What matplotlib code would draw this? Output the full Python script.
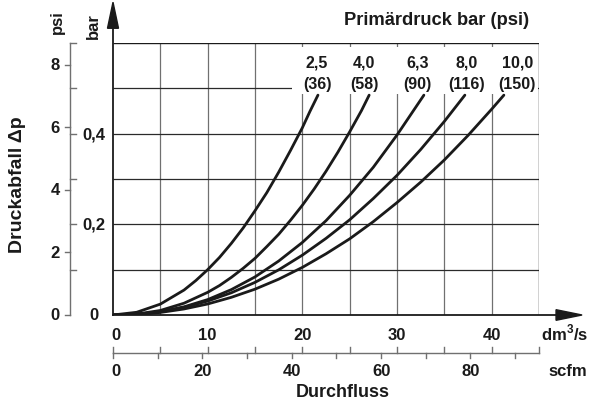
import numpy as np
import matplotlib
matplotlib.use('Agg')
import matplotlib.pyplot as plt

plt.rcParams['font.family'] = ['Liberation Sans', 'DejaVu Sans']
plt.rcParams['font.weight'] = 'bold'
plt.rcParams['mathtext.fontset'] = 'custom'
plt.rcParams['mathtext.rm'] = 'Liberation Sans:bold'
plt.rcParams['mathtext.bf'] = 'Liberation Sans:bold'

# Primärdruck (curve labels)
primary_bar = ['2,5', '4,0', '6,3', '8,0', '10,0']
primary_psi = ['(36)', '(58)', '(90)', '(116)', '(150)']

# flow in dm3/s, pressure drop in bar
flow_25 = [0, 2.5, 5, 7.5, 8.75, 10, 11.25, 12.5, 13.75, 15, 16.25, 17.5, 18.75, 20, 20.8, 21.65]
drop_25 = [0, 0.006, 0.024, 0.055, 0.076, 0.10, 0.127, 0.158, 0.192, 0.23, 0.27, 0.315, 0.363, 0.413, 0.449, 0.485]
flow_40 = [0, 2.5, 5, 7.5, 10, 11.25, 12.5, 13.75, 15, 16.25, 17.5, 18.75, 20, 21.25, 22.5, 23.75, 25, 26.25, 27.06]
drop_40 = [0, 0.002, 0.010, 0.026, 0.050, 0.065, 0.083, 0.103, 0.125, 0.151, 0.178, 0.209, 0.242, 0.278, 0.317, 0.359, 0.404, 0.451, 0.485]
flow_63 = [0, 2.5, 5, 7.5, 10, 12.5, 15, 17.5, 20, 22.5, 25, 27.5, 30, 32.84]
drop_63 = [0, 0.0015, 0.0072, 0.018, 0.034, 0.056, 0.084, 0.119, 0.160, 0.208, 0.264, 0.326, 0.397, 0.485]
flow_80 = [0, 2.5, 5, 7.5, 10, 12.5, 15, 17.5, 20, 22.5, 25, 27.5, 30, 32.5, 35, 37.17]
drop_80 = [0, 0.0017, 0.0072, 0.0168, 0.0307, 0.049, 0.072, 0.0996, 0.132, 0.169, 0.210, 0.257, 0.308, 0.365, 0.427, 0.485]
flow_100 = [0, 2.5, 5, 7.5, 10, 12.5, 15, 17.5, 20, 22.5, 25, 27.5, 30, 32.5, 35, 37.5, 40, 41.29]
drop_100 = [0, 0.0013, 0.0056, 0.0133, 0.0243, 0.039, 0.057, 0.079, 0.105, 0.135, 0.168, 0.206, 0.248, 0.293, 0.342, 0.396, 0.454, 0.485]

flows = [flow_25, flow_40, flow_63, flow_80, flow_100]
drops = [drop_25, drop_40, drop_63, drop_80, drop_100]

# axis ticks
flow_ticks = [0, 10, 20, 30, 40]
scfm_ticks = [0, 20, 40, 60, 80]
scfm_minor = [10, 30, 50, 70, 90]
psi_ticks = [0, 2, 4, 6, 8]
bar_ticks = [0, 0.2, 0.4]
bar_labels = ['0', '0,2', '0,4']

SCFM_PER_DM3S = 2.1189
PSI_PER_BAR = 14.5038

# layout (pixels of a 597x406 figure)
X_PX = 426 / 45     # px per dm3/s
Y_PX = 272 / 0.6    # px per bar
def dx(px):
    return px / X_PX
def dy(px):
    return px / Y_PX

fig = plt.figure(figsize=(5.97, 4.06), dpi=100)
ax = fig.add_axes([113 / 597, 90 / 406, 426 / 597, 272 / 406])
ax.set_xlim(0, 45)
ax.set_ylim(0, 0.6)
ax.set_axis_off()

dark = '#1a1a1a'
gray = '#707070'

# grid
ax.vlines(np.arange(5, 45, 5), 0, 0.6, color=gray, lw=0.9, zorder=1)
ax.hlines(np.arange(0.1, 0.55, 0.1), 0, 45, color='#2a2a2a', lw=0.9, zorder=1)
ax.hlines(0.6, 0, 45, color=dark, lw=1.0, zorder=3)
ax.vlines(45, 0, 0.6, color=dark, lw=1.0, zorder=3)

# white box behind curve labels
ax.add_patch(plt.Rectangle((18.9, 0.487), 44.9 - 18.9, 0.591 - 0.487,
                           facecolor='white', edgecolor='none', zorder=2))

# main axes with arrows
ax.plot([0, 47.0], [0, 0], color=dark, lw=1.3, clip_on=False, zorder=3)
ax.fill([46.8, 49.55, 46.8], [dy(5.3), 0, -dy(5.3)], color=dark, clip_on=False, zorder=3)
ax.plot([0, 0], [0, 0.635], color=dark, lw=1.3, clip_on=False, zorder=3)
ax.fill([-dx(5.5), 0, dx(5.5)], [0.6325, 0.69, 0.6325], color=dark, clip_on=False, zorder=3)

# curves
for fl, dr in zip(flows, drops):
    ax.plot(fl, dr, color=dark, lw=2.0, solid_capstyle='round', solid_joinstyle='round', zorder=4)

# curve labels
label_x = [dx(317 - 113), dx(364 - 113), dx(417.5 - 113), dx(466.7 - 113), dx(517.3 - 113)]
for lx, lb, lp in zip(label_x, primary_bar, primary_psi):
    ax.text(lx, 0.558, lb, ha='center', va='center', fontsize=11.5, color=dark, zorder=5)
    ax.text(lx, 0.510, lp, ha='center', va='center', fontsize=11.5, color=dark, zorder=5)

ax.text(dx(436.7 - 113), 0.6 + dy(24), 'Primärdruck bar (psi)', ha='center', va='center',
        fontsize=13.2, color=dark, clip_on=False)

# psi axis (outer left)
xp = -dx(43)
ax.plot([xp, xp], [0, 0.6], color=gray, lw=1.0, clip_on=False)
for p in psi_ticks:
    ax.plot([xp - dx(5), xp], [p / PSI_PER_BAR] * 2, color=gray, lw=1.0, clip_on=False)
    ax.text(xp - dx(15), p / PSI_PER_BAR, str(p), ha='center', va='center',
            fontsize=12, color=dark, clip_on=False)
for b in np.arange(0.1, 0.65, 0.1):
    ax.plot([xp, xp + dx(6)], [b, b], color=gray, lw=1.0, clip_on=False)
for b, bl in zip(bar_ticks, bar_labels):
    ax.text(-dx(19), b, bl, ha='center', va='center', fontsize=12, color=dark, clip_on=False)

ax.text(-dx(56), 0.6 + dy(22), 'psi', rotation=90, ha='center', va='center',
        fontsize=12, color=dark, clip_on=False)
ax.text(-dx(20), 0.6 + dy(18), 'bar', rotation=90, ha='center', va='center',
        fontsize=12, color=dark, clip_on=False)
ax.text(-dx(95), 0.289, 'Druckabfall Δp', rotation=90, ha='center', va='center',
        fontsize=14, color=dark, clip_on=False)

# flow axis labels (dm3/s)
for f in flow_ticks:
    ax.text(f + (0.3 if f == 0 else 0), -dy(24), str(f), ha='center', va='baseline',
            fontsize=12, color=dark, clip_on=False)
ax.text(dx(565 - 113), -dy(24), r'dm$^{3}$/s', ha='center', va='baseline',
        fontsize=12, color=dark, clip_on=False)

# scfm axis
ys = -dy(37.5)
ax.plot([0, 45], [ys, ys], color=gray, lw=1.0, clip_on=False)
for f in np.arange(0, 46, 5):
    ax.plot([f, f], [ys, ys + dy(5.5)], color=gray, lw=1.0, clip_on=False)
ax.plot([0, 0], [ys, ys - dy(5.5)], color=gray, lw=1.0, clip_on=False)
for s in scfm_ticks[1:] + scfm_minor:
    xs = s / SCFM_PER_DM3S
    ax.plot([xs, xs], [ys, ys - dy(5.5)], color=gray, lw=1.0, clip_on=False)
for s in scfm_ticks:
    xs = s / SCFM_PER_DM3S
    ax.text(xs + (0.3 if s == 0 else 0), -dy(56), str(s), ha='center', va='center',
            fontsize=12, color=dark, clip_on=False)
ax.text(dx(567.7 - 113), -dy(56), 'scfm', ha='center', va='center',
        fontsize=12, color=dark, clip_on=False)
ax.text(dx(343 - 113), -dy(77), 'Durchfluss', ha='center', va='center',
        fontsize=13, color=dark, clip_on=False)

fig.savefig('out.png', dpi=100)
